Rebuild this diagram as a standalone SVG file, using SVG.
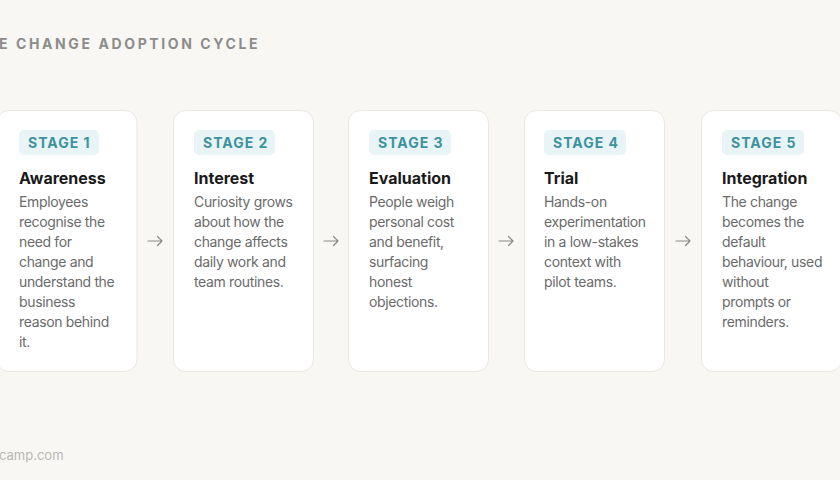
<svg xmlns="http://www.w3.org/2000/svg" width="840" height="480" viewBox="0 0 840 480">
<defs>
<path id="arr" d="M-7 0 H7 M2.5 -4.5 L7 0 L2.5 4.5" fill="none" stroke="#8a8a8a" stroke-width="1.2" stroke-linecap="round" stroke-linejoin="round"/>
</defs>
<style>
.card{fill:#ffffff;stroke:#e9e7e2;stroke-width:1}
.badge{fill:#e8f4f6}
.stage{font-family:Inter,"Liberation Sans",sans-serif;font-size:14px;font-weight:700;fill:#3d929f;letter-spacing:1px}
.title{font-family:Inter,"Liberation Sans",sans-serif;font-size:16px;font-weight:700;fill:#1a1a1a}
.body{font-family:Inter,"Liberation Sans",sans-serif;font-size:14px;fill:#6b6b6b;letter-spacing:-0.35px}
.head{font-family:Inter,"Liberation Sans",sans-serif;font-size:14px;font-weight:700;fill:#8c8c8a;letter-spacing:2.6px}
.foot{font-family:Inter,"Liberation Sans",sans-serif;font-size:13px;fill:#b8b8b6}
</style>
<rect x="0" y="0" width="840" height="480" fill="#f8f7f4"/>
<text class="head" x="-1" y="49">E CHANGE ADOPTION CYCLE</text>
<g id="stage1">
<rect class="card" x="-3" y="110.5" width="140" height="261" rx="12"/>
<rect class="badge" x="19" y="130" width="80" height="25" rx="5"/>
<text class="stage" x="28" y="148">STAGE 1</text>
<text class="title" x="19" y="184">Awareness</text>
<text class="body"><tspan x="19" y="207">Employees</tspan><tspan x="19" y="227">recognise the</tspan><tspan x="19" y="247">need for</tspan><tspan x="19" y="267">change and</tspan><tspan x="19" y="287">understand the</tspan><tspan x="19" y="307">business</tspan><tspan x="19" y="327">reason behind</tspan><tspan x="19" y="347">it.</tspan></text>
</g>
<g id="stage2">
<rect class="card" x="173.5" y="110.5" width="140" height="261" rx="12"/>
<rect class="badge" x="194" y="130" width="81" height="25" rx="5"/>
<text class="stage" x="203" y="148">STAGE 2</text>
<text class="title" x="194" y="184">Interest</text>
<text class="body"><tspan x="194" y="207">Curiosity grows</tspan><tspan x="194" y="227">about how the</tspan><tspan x="194" y="247">change affects</tspan><tspan x="194" y="267">daily work and</tspan><tspan x="194" y="287">team routines.</tspan></text>
</g>
<g id="stage3">
<rect class="card" x="348.5" y="110.5" width="140" height="261" rx="12"/>
<rect class="badge" x="369" y="130" width="82" height="25" rx="5"/>
<text class="stage" x="378" y="148">STAGE 3</text>
<text class="title" x="369" y="184">Evaluation</text>
<text class="body"><tspan x="369" y="207">People weigh</tspan><tspan x="369" y="227">personal cost</tspan><tspan x="369" y="247">and benefit,</tspan><tspan x="369" y="267">surfacing</tspan><tspan x="369" y="287">honest</tspan><tspan x="369" y="307">objections.</tspan></text>
</g>
<g id="stage4">
<rect class="card" x="524.5" y="110.5" width="140" height="261" rx="12"/>
<rect class="badge" x="544" y="130" width="82" height="25" rx="5"/>
<text class="stage" x="553" y="148">STAGE 4</text>
<text class="title" x="544" y="184">Trial</text>
<text class="body"><tspan x="544" y="207">Hands-on</tspan><tspan x="544" y="227">experimentation</tspan><tspan x="544" y="247">in a low-stakes</tspan><tspan x="544" y="267">context with</tspan><tspan x="544" y="287">pilot teams.</tspan></text>
</g>
<g id="stage5">
<rect class="card" x="701.5" y="110.5" width="140" height="261" rx="12"/>
<rect class="badge" x="722" y="130" width="82" height="25" rx="5"/>
<text class="stage" x="731" y="148">STAGE 5</text>
<text class="title" x="722" y="184">Integration</text>
<text class="body"><tspan x="722" y="207">The change</tspan><tspan x="722" y="227">becomes the</tspan><tspan x="722" y="247">default</tspan><tspan x="722" y="267">behaviour, used</tspan><tspan x="722" y="287">without</tspan><tspan x="722" y="307">prompts or</tspan><tspan x="722" y="327">reminders.</tspan></text>
</g>
<g id="connectors">
<use href="#arr" x="155" y="241"/>
<use href="#arr" x="331" y="241"/>
<use href="#arr" x="506" y="241"/>
<use href="#arr" x="683" y="241"/>
</g>
<text class="foot" x="-1" y="460">camp.com</text>
</svg>
